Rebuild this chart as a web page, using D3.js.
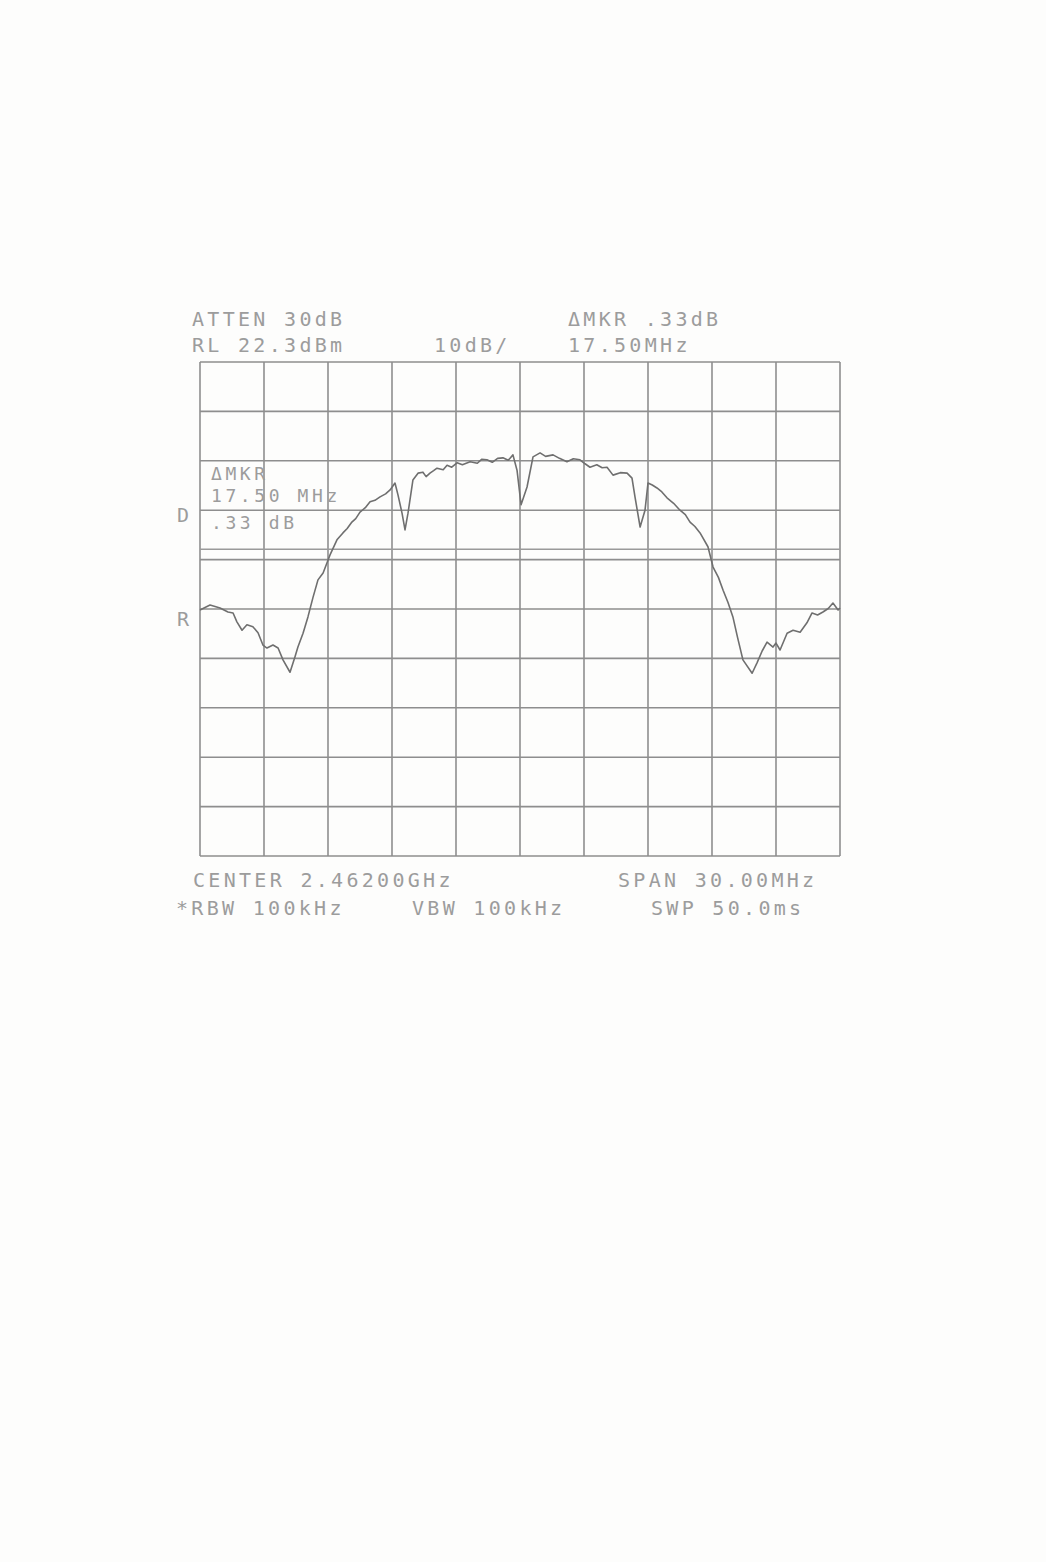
<!DOCTYPE html>
<html>
<head>
<meta charset="utf-8">
<script src="https://cdn.jsdelivr.net/npm/d3@7"></script>
<style>
  body { margin: 0; background: #fdfdfc; }
  svg text { font-family: "DejaVu Sans Mono", monospace; fill: #9c9c9c; }
</style>
</head>
<body>
<div id="chart"></div>
<script>
// analyzer settings
const refLevel = 22.3;       // dBm, top of screen
const dbPerDiv = 10;
const spanMHz = 30;
const displayLine = -15.6;   // dBm

// trace: offset from centre (MHz) / level (dBm)
const freqMHz = [-15, -14.53, -14.06, -13.69, -13.45, -13.27, -13.03, -12.8, -12.52, -12.28,
  -12.05, -11.86, -11.58, -11.34, -11.11, -10.78, -10.55, -10.41, -10.17, -9.94,
  -9.7, -9.47, -9.23, -9.05, -8.91, -8.58, -8.3, -8.1, -7.88, -7.7, -7.5, -7.25, -7.03, -6.8, -6.56, -6.3, -6.09,
  -5.86, -5.72, -5.53, -5.39, -5.25, -5.02, -4.78, -4.55, -4.4, -4.22, -4.05, -3.89, -3.6, -3.42, -3.2, -2.95,
  -2.7, -2.34, -2.0, -1.8, -1.55, -1.3, -1.05, -0.8, -0.55, -0.33, -0.14, 0.05, 0.33, 0.61, 0.94,
  1.2, 1.55, 1.85, 2.2, 2.5, 2.81, 3.05, 3.28, 3.6, 3.85, 4.08, 4.36, 4.7, 5.02, 5.25, 5.39,
  5.63, 5.86, 6.0, 6.2, 6.42, 6.65, 6.89, 7.2, 7.5, 7.75, 7.97, 8.2, 8.44, 8.81, 9.05, 9.3, 9.52, 9.75,
  9.98, 10.2, 10.45, 10.88, 11.11, 11.35, 11.58, 11.86, 12.0, 12.19, 12.52, 12.8, 13.13, 13.45,
  13.69, 13.95, 14.2, 14.45, 14.67, 14.91, 15];
const levelDbm = [-27.9, -26.9, -27.5, -28.3, -28.5, -30.3, -32.0, -30.9, -31.3, -32.5,
  -35.0, -35.6, -35.0, -35.6, -38.0, -40.5, -37.4, -35.4, -32.6, -29.3,
  -25.3, -21.8, -20.4, -18.4, -16.8, -13.7, -12.3, -11.4, -10.1, -9.4, -8.1, -7.2, -6.0, -5.7, -5.0, -4.4, -3.6,
  -2.2, -4.6, -8.3, -11.7, -8.3, -1.6, -0.2, 0.0, -0.9, -0.2, 0.3, 0.8, 0.5, 1.4, 1.0, 1.9,
  1.5, 2.1, 1.8, 2.6, 2.5, 2.0, 2.8, 2.9, 2.4, 3.5, 0.4, -6.6, -3.0, 3.1, 3.9,
  3.2, 3.5, 2.8, 2.1, 2.7, 2.5, 1.7, 1.0, 1.5, 0.9, 1.0, -0.6, -0.1, -0.2, -1.2, -5.0,
  -11.1, -7.7, -2.2, -2.6, -3.2, -4.0, -5.2, -6.3, -7.7, -8.6, -10.1, -11.0, -12.3, -15.1, -19.2, -21.3, -23.9, -26.4,
  -29.3, -33.5, -38.0, -40.7, -38.6, -36.2, -34.4, -35.4, -34.6, -36.0, -32.6, -32.0, -32.4, -30.5,
  -28.5, -28.9, -28.3, -27.6, -26.5, -27.9, -27.5];

// screen annotations
const topLeftLines = ["ATTEN 30dB", "RL 22.3dBm"];
const scaleLabel = "10dB/";
const topRightLines = ["\u0394MKR .33dB", "17.50MHz"];
const markerLines = ["\u0394MKR", "17.50 MHz", ".33 dB"];
const bottomLines = [
  ["CENTER 2.46200GHz", "SPAN 30.00MHz"],
  ["*RBW 100kHz", "VBW 100kHz", "SWP 50.0ms"]
];

const width = 1046, height = 1562;
const plot = {left: 200, right: 840, top: 362, bottom: 856};

const svg = d3.select('#chart').append('svg')
  .attr('width', width)
  .attr('height', height);

const x = d3.scaleLinear().domain([-spanMHz / 2, spanMHz / 2]).range([plot.left, plot.right]);
const y = d3.scaleLinear().domain([refLevel - 10 * dbPerDiv, refLevel]).range([plot.bottom, plot.top]);

// graticule
const xTicks = d3.range(-spanMHz / 2, spanMHz / 2 + 0.01, spanMHz / 10);
const yTicks = d3.range(0, 11).map(i => refLevel - i * dbPerDiv);

const grid = svg.append('g').attr('stroke', '#8e8e8e').attr('stroke-width', 1.6);
grid.selectAll('.vl').data(xTicks).enter().append('line')
  .attr('x1', d => x(d)).attr('x2', d => x(d))
  .attr('y1', plot.top).attr('y2', plot.bottom);
grid.selectAll('.hl').data(yTicks).enter().append('line')
  .attr('x1', plot.left).attr('x2', plot.right)
  .attr('y1', d => y(d)).attr('y2', d => y(d));

// display line
svg.append('line')
  .attr('x1', plot.left).attr('x2', plot.right)
  .attr('y1', y(displayLine)).attr('y2', y(displayLine))
  .attr('stroke', '#9a9a9a').attr('stroke-width', 1.6);

// trace
const trace = freqMHz.map((f, i) => [f, levelDbm[i]]);
svg.append('path')
  .datum(trace)
  .attr('fill', 'none')
  .attr('stroke', '#6f6f6f')
  .attr('stroke-width', 1.6)
  .attr('stroke-linejoin', 'round')
  .attr('d', d3.line().x(d => x(d[0])).y(d => y(d[1])));

// texts
function label(str, tx, ty, size = 20, spacing = 3.3) {
  svg.append('text')
    .attr('x', tx).attr('y', ty)
    .attr('font-size', size)
    .attr('letter-spacing', spacing)
    .text(str);
}

topLeftLines.forEach((t, i) => label(t, 192, 326 + i * 26));
label(scaleLabel, 434, 352);
topRightLines.forEach((t, i) => label(t, 568, 326 + i * 26));
markerLines.forEach((t, i) => label(t, 211, [480, 502, 529][i], 18, 3.6));
label("D", 177, 522);
label("R", 177, 626);
label(bottomLines[0][0], 193, 887);
label(bottomLines[0][1], 618, 887);
label(bottomLines[1][0], 176, 915);
label(bottomLines[1][1], 412, 915);
label(bottomLines[1][2], 651, 915);
</script>
</body>
</html>
